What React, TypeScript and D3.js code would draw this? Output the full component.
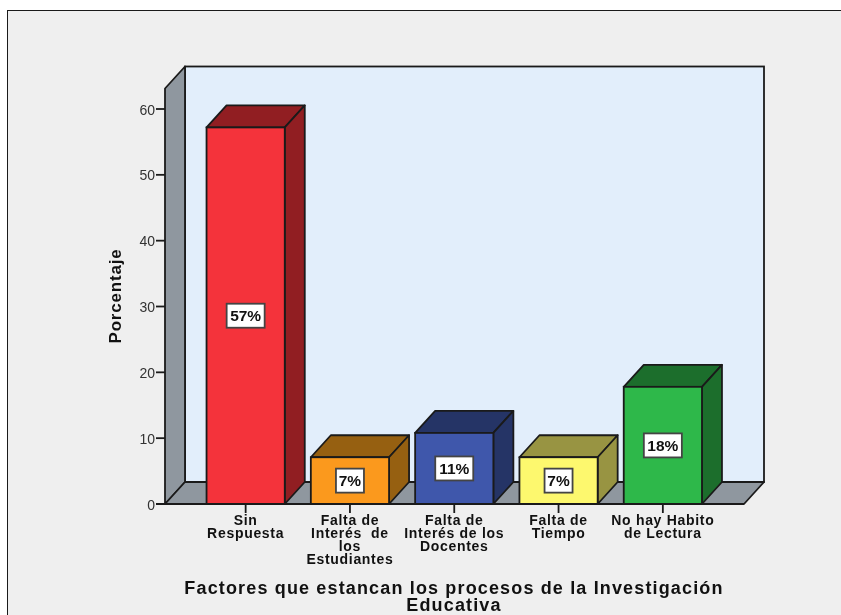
import React from "react";
import * as d3 from "d3";

const categories = ["Sin Respuesta", "Falta de Interés de los Estudiantes", "Falta de Interés de los Docentes", "Falta de Tiempo", "No hay Habito de Lectura"];
const categoryLines = [
  ["Sin", "Respuesta"],
  ["Falta de", "Interés  de", "los", "Estudiantes"],
  ["Falta de", "Interés de los", "Docentes"],
  ["Falta de", "Tiempo"],
  ["No hay Habito", "de Lectura"],
];
const values = [57.2, 7.1, 10.8, 7.1, 17.8];
const labels = ["57%", "7%", "11%", "7%", "18%"];
const frontColors = ["#f4333b", "#fb991d", "#3f57ab", "#fdf86e", "#2eb84a"];
const sideColors = ["#911e22", "#966011", "#253466", "#989442", "#1c6e2c"];
const yTicks = [0, 10, 20, 30, 40, 50, 60];
const titleLines = ["Factores que estancan los procesos de la Investigación", "Educativa"];
const yTitle = "Porcentaje";

const W = 841, H = 615;
const DX = 20, DY = -22;
const INK = "#1a1a1a";
const SW = 1.8;
const FONT = "'Liberation Sans', Arial, sans-serif";

const y = d3.scaleLinear().domain([0, 60]).range([504, 109]);
const x = d3.scaleBand<string>().domain(categories).range([193.5, 715]).paddingInner(0.25).paddingOuter(0.125);
const poly = (pts: [number, number][]) => pts.map((p) => p.join(",")).join(" ");

export default function App() {
  const left = 165, right = 744;
  const y0 = y(0), yTop = 88.5;
  return (
    <svg width={W} height={H} viewBox={`0 0 ${W} ${H}`} style={{ position: "absolute", left: 0, top: 0, fontFamily: FONT, filter: "blur(0.35px)" }}>
      <rect x={0} y={0} width={W} height={H} fill="#ffffff" />
      <rect x={7.5} y={10.5} width={W} height={H} fill="#efefef" stroke={INK} strokeWidth={1} />

      <rect x={left + DX} y={yTop + DY} width={right - left} height={y0 - yTop} fill="#e2eefb" stroke={INK} strokeWidth={SW} />
      <polygon points={poly([[left, yTop], [left + DX, yTop + DY], [left + DX, y0 + DY], [left, y0]])} fill="#8f979f" stroke={INK} strokeWidth={SW} strokeLinejoin="round" />
      <polygon points={poly([[left, y0], [left + DX, y0 + DY], [right + DX, y0 + DY], [right, y0]])} fill="#8f979f" stroke={INK} strokeWidth={SW} strokeLinejoin="round" />

      {yTicks.map((t) => (
        <g key={t}>
          <line x1={left - 9} x2={left} y1={y(t)} y2={y(t)} stroke={INK} strokeWidth={SW} />
          <text x={left - 10} y={y(t) + 5.5} textAnchor="end" fontSize={14} fill="#333">{t}</text>
        </g>
      ))}
      <text transform={`translate(121,296) rotate(-90)`} textAnchor="middle" fontSize={17} fontWeight="bold" fill="#111" letterSpacing={0.8}>{yTitle}</text>

      {categories.map((c, i) => {
        const x0 = x(c)!, bw = x.bandwidth(), x1 = x0 + bw, top = y(values[i]);
        const cx = x0 + bw / 2, cy = (top + y0) / 2;
        const boxW = labels[i].length > 2 ? 38 : 28;
        return (
          <g key={c}>
            <line x1={cx} x2={cx} y1={y0} y2={y0 + 9} stroke={INK} strokeWidth={SW} />
            <polygon points={poly([[x0, top], [x0 + DX, top + DY], [x1 + DX, top + DY], [x1, top]])} fill={sideColors[i]} stroke={INK} strokeWidth={SW} strokeLinejoin="round" />
            <polygon points={poly([[x1, top], [x1 + DX, top + DY], [x1 + DX, y0 + DY], [x1, y0]])} fill={sideColors[i]} stroke={INK} strokeWidth={SW} strokeLinejoin="round" />
            <rect x={x0} y={top} width={bw} height={y0 - top} fill={frontColors[i]} stroke={INK} strokeWidth={SW} />
            <rect x={cx - boxW / 2} y={cy - 12} width={boxW} height={24} fill="#ffffff" stroke="#444" strokeWidth={SW} />
            <text x={cx} y={cy + 5.5} textAnchor="middle" fontSize={15.5} fontWeight="bold" fill="#111">{labels[i]}</text>
            {categoryLines[i].map((line, j) => (
              <text key={j} x={cx} y={525 + j * 13} textAnchor="middle" fontSize={14} fontWeight="bold" fill="#111" letterSpacing={0.7} style={{ whiteSpace: "pre" }}>{line}</text>
            ))}
          </g>
        );
      })}
      <line x1={left - 9} x2={right} y1={y0} y2={y0} stroke={INK} strokeWidth={2.2} />

      {titleLines.map((t, i) => (
        <text key={i} x={454} y={594 + i * 17} textAnchor="middle" fontSize={18} fontWeight="bold" fill="#111" letterSpacing={1.15}>{t}</text>
      ))}
    </svg>
  );
}
